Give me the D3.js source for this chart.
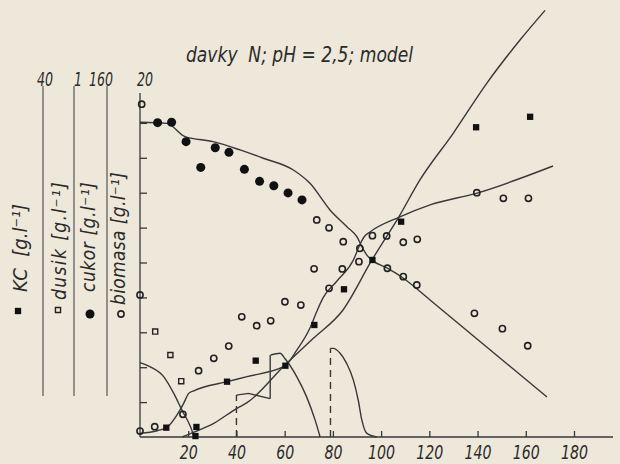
<!DOCTYPE html>
<html>
<head>
<meta charset="utf-8">
<script src="https://cdn.jsdelivr.net/npm/d3@7"></script>
<style>
  html, body { margin: 0; padding: 0; background: #ede8d9; }
  svg { display: block; }
  text {
    font-family: "DejaVu Sans Condensed", "DejaVu Sans", sans-serif;
    font-style: italic;
    fill: #2b2b2b;
  }
</style>
</head>
<body>
<svg id="chart" width="620" height="464"></svg>
<script>
// time axis [h]
const xTicks = [20, 40, 60, 80, 100, 120, 140, 160, 180];

// the four stacked scales on the left, outer to inner
const scaleNames = ["KC", "dusik", "cukor", "biomasa"];
const scaleMax = [40, 1, 160, 20];
const scaleSymbols = ["square", "openSquare", "dot", "ring"];

// measured points, [t, value]
const kcPoints = [
  [10.9, 1.07], [23.4, 1.15], [23.0, 0.11], [36.1, 6.34], [48.0, 8.75],
  [60.3, 8.17], [72.3, 12.84], [84.6, 16.93], [96.4, 20.29], [108.3, 24.68],
  [139.4, 35.5], [161.8, 36.7]
];
const dusikPoints = [[6.3, 0.302], [12.6, 0.235], [17.1, 0.16]];
const cukorPoints = [
  [7.3, 144.1], [13.1, 144.3], [19.1, 135.4], [25.2, 123.6], [31.2, 132.6],
  [36.9, 130.5], [43.3, 122.7], [49.6, 117.2], [55.5, 115.2], [61.4, 111.9],
  [67.2, 108.7]
];
const biomasaPoints = [
  [0.7, 19.07], [0, 8.14], [0, 0.34], [6.1, 0.59], [17.8, 1.3], [24.3, 3.8],
  [30.6, 4.51], [36.8, 5.21], [42.2, 6.89], [48.4, 6.38], [54.2, 6.66],
  [60.1, 7.75], [66.7, 7.56], [78.4, 8.52], [73.3, 12.44], [78.4, 11.99],
  [72.2, 9.64], [84.3, 11.19], [91.2, 10.81], [90.8, 10.05], [83.9, 9.63],
  [96.4, 11.54], [102.3, 11.52], [109.2, 11.16], [115.0, 11.33],
  [102.6, 9.67], [109.2, 9.19], [114.8, 8.71], [139.7, 14.0], [150.7, 13.68],
  [161.1, 13.68], [138.7, 7.09], [150.3, 6.21], [160.8, 5.23]
];

// model curves, [t, value]
const cukorModel = [
  [0, 144.3], [11.1, 143.8], [18.7, 137.7], [30.4, 135.4], [41.5, 131.6],
  [51.1, 127.8], [63.6, 122.4], [70.5, 116.3], [78.8, 104.1], [85.9, 96.3],
  [90, 91.7], [92.1, 87.1], [94.1, 83.4], [96.2, 81.1], [102.4, 77.5],
  [109.1, 72.9], [120.3, 62.8], [168.8, 18.3]
];
const biomasaModel = [
  [0, 0.21], [7.1, 0.36], [11.2, 0.56], [15.3, 1.26], [18.1, 1.93],
  [20.2, 2.5], [22.3, 2.65], [36.1, 3.17], [44.4, 3.46], [60.1, 4.07],
  [65.1, 4.99], [70.5, 6.25], [73.4, 7.22], [75.9, 7.97], [81.7, 8.94],
  [88.5, 10.14], [91.3, 11.06], [92.9, 11.46], [95.4, 11.75], [107.8, 12.61],
  [120.3, 13.3], [139.8, 13.98], [171.3, 15.53]
];
const kcModel = [
  [17.5, 0], [22.9, 0.61], [30.6, 1.57], [40.2, 3.29], [44.4, 3.93],
  [60.1, 8.25], [71.9, 11.31], [84.2, 14.56], [96.2, 20.29], [107.8, 25.44],
  [116.1, 29.46], [129.9, 34.81], [143.8, 40.54], [157.6, 45.5], [168, 48.9]
];
// nitrogen: decay after each dose
const dusikDecay = [
  [[0, 0.213], [4.3, 0.201], [9.8, 0.173], [14, 0.125], [17.4, 0.077], [20.9, 0.03], [22.5, 0]],
  [[54.2, 0.235], [58.1, 0.24], [60.1, 0.225], [65, 0.173], [69.1, 0.115], [72.6, 0.049], [74.7, 0]],
  [[79, 0.254], [80.2, 0.254], [83, 0.24], [85.7, 0.211], [88.5, 0.163], [90.5, 0.106], [92, 0.049], [94, 0.011], [98.2, 0]]
];
const dusikPlateau = [[40, 0.12], [45, 0.125], [54, 0.11]];
const dusikDoses = [
  { t: 40, from: 0, to: 0.12, dashed: true },
  { t: 54, from: 0.11, to: 0.235, dashed: false },
  { t: 79, from: 0, to: 0.254, dashed: true }
];

const svg = d3.select("svg#chart");
const ink = "#383838";

// narrow, tall lettering like the stencil on the original
const narrow = (sel, perChar) =>
  sel.attr("textLength", (d) => String(d).length * perChar)
    .attr("lengthAdjust", "spacingAndGlyphs");

const x = d3.scaleLinear().domain([0, 180]).range([140, 574]);
const yRange = [437, 88];
const [yKc, yDusik, yCukor, yBio] = scaleMax.map((m) =>
  d3.scaleLinear().domain([0, m]).range(yRange)
);

// x axis
svg.append("line")
  .attr("x1", 140).attr("x2", 613)
  .attr("y1", 437).attr("y2", 437)
  .attr("stroke", ink).attr("stroke-width", 1.3);

const xAxis = svg.append("g")
  .attr("transform", "translate(0,437)")
  .call(d3.axisBottom(x).tickValues(xTicks).tickSize(-6).tickPadding(8));
xAxis.select(".domain").remove();
xAxis.selectAll(".tick line").attr("stroke", ink).attr("stroke-width", 1.3);
xAxis.selectAll(".tick text")
  .attr("font-size", 20)
  .attr("fill", "#2b2b2b")
  .style("font-family", null)
  .call(narrow, 9);

// y axis (biomass scale carries the ticks)
svg.append("line")
  .attr("x1", 140).attr("x2", 140)
  .attr("y1", 437).attr("y2", 93)
  .attr("stroke", ink).attr("stroke-width", 1.3);

const yAxis = svg.append("g")
  .attr("transform", "translate(140,0)")
  .call(d3.axisRight(yBio).tickValues(d3.range(2, 20, 2)).tickSize(7).tickFormat(""));
yAxis.select(".domain").remove();
yAxis.selectAll(".tick line").attr("stroke", ink).attr("stroke-width", 1.3);

// stacked scale rulers on the left
const rulerX = [43, 74, 107];
const topLabelX = [45, 78, 101, 145];
const titleX = [20, 59, 88, 118];
const titleBottom = [292, 300, 292, 305];
const titleLength = [null, 118, 110, 133];
const legendX = [18, 58, 90, 121];
const legendY = [311, 310, 314, 314];

svg.append("g")
  .selectAll("line")
  .data(rulerX)
  .join("line")
  .attr("x1", (d) => d).attr("x2", (d) => d)
  .attr("y1", 86).attr("y2", 396)
  .attr("stroke", "#555").attr("stroke-width", 1.2);

svg.append("g")
  .selectAll("text")
  .data(scaleMax)
  .join("text")
  .attr("x", (d, i) => topLabelX[i])
  .attr("y", 86)
  .attr("text-anchor", "middle")
  .attr("font-size", 20)
  .call(narrow, 8)
  .text((d) => d);

svg.append("g")
  .selectAll("text")
  .data(scaleNames)
  .join("text")
  .attr("transform", (d, i) => `translate(${titleX[i]},${titleBottom[i]}) rotate(-90)`)
  .attr("dy", "0.35em")
  .attr("font-size", (d, i) => (i === 0 ? 20 : 19))
  .attr("textLength", (d, i) => titleLength[i])
  .attr("lengthAdjust", "spacing")
  .attr("xml:space", "preserve")
  .text((d, i) => (i === 0 ? `${d}  [g.l⁻¹]` : `${d} [g.l⁻¹]`));

// symbol drawing
function drawSymbols(g, data, kind, xs, ys) {
  const sel = g.selectAll("path").data(data).join("path");
  const tx = ([t, v]) => `translate(${xs(t)},${ys(v)})`;
  if (kind === "square") {
    sel.attr("d", d3.symbol(d3.symbolSquare, 40)).attr("fill", "#111").attr("transform", tx);
  } else if (kind === "openSquare") {
    sel.attr("d", d3.symbol(d3.symbolSquare, 26)).attr("fill", "none")
      .attr("stroke", "#222").attr("stroke-width", 1.4).attr("transform", tx);
  } else if (kind === "dot") {
    sel.attr("d", d3.symbol(d3.symbolCircle, 64)).attr("fill", "#111").attr("transform", tx);
  } else {
    sel.attr("d", d3.symbol(d3.symbolCircle, 30)).attr("fill", "none")
      .attr("stroke", "#222").attr("stroke-width", 1.6).attr("transform", tx);
  }
}

// legend symbols under the ruler titles
scaleSymbols.forEach((kind, i) => {
  drawSymbols(svg.append("g"), [[legendX[i], legendY[i]]], kind, (d) => d, (d) => d);
});

// model curves
const curveOf = (ys) =>
  d3.line().x(([t]) => x(t)).y(([, v]) => ys(v)).curve(d3.curveMonotoneX);

const models = svg.append("g")
  .attr("fill", "none")
  .attr("stroke", ink)
  .attr("stroke-width", 1.4);

models.append("path").attr("d", curveOf(yCukor)(cukorModel));
models.append("path").attr("d", curveOf(yBio)(biomasaModel));
models.append("path").attr("d", curveOf(yKc)(kcModel));
models.selectAll(".decay")
  .data(dusikDecay)
  .join("path")
  .attr("class", "decay")
  .attr("d", curveOf(yDusik));
models.append("path")
  .attr("d", d3.line().x(([t]) => x(t)).y(([, v]) => yDusik(v))(dusikPlateau));
models.selectAll(".dose")
  .data(dusikDoses)
  .join("line")
  .attr("class", "dose")
  .attr("x1", ({ t }) => x(t)).attr("x2", ({ t }) => x(t))
  .attr("y1", ({ from }) => yDusik(from)).attr("y2", ({ to }) => yDusik(to))
  .attr("stroke-dasharray", ({ dashed }) => (dashed ? "7,5" : null));

// measured points
drawSymbols(svg.append("g"), kcPoints, "square", x, yKc);
drawSymbols(svg.append("g"), dusikPoints, "openSquare", x, yDusik);
drawSymbols(svg.append("g"), cukorPoints, "dot", x, yCukor);
drawSymbols(svg.append("g"), biomasaPoints, "ring", x, yBio);

// title
svg.append("text")
  .attr("x", 186)
  .attr("y", 62)
  .attr("font-size", 22)
  .attr("textLength", 227)
  .attr("lengthAdjust", "spacingAndGlyphs")
  .attr("xml:space", "preserve")
  .text("davky  N; pH = 2,5; model");
</script>
</body>
</html>
